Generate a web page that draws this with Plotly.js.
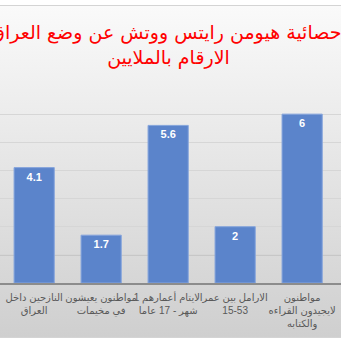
<!DOCTYPE html>
<html>
<head>
<meta charset="utf-8">
<script src="https://cdn.plot.ly/plotly-3.0.1.min.js"></script>
<style>
html,body{margin:0;padding:0;background:#ffffff;}
#chart{width:341px;height:341px;
background:linear-gradient(to bottom,#ffffff 0px,#ffffff 5px,#d4d4d4 5px,#d4d4d4 6px,#fafafa 6px,#cfcfcf 337px,#d4d4d4 337px,#d4d4d4 338px,#ffffff 338px,#ffffff 341px);}
</style>
</head>
<body>
<div id="chart"></div>
<script>
var categories = [
  "النازحين داخل<br>العراق",
  "مواطنون يعيشون<br>في مخيمات",
  "الايتام أعمارهم 1<br>شهر - 17 عاما",
  "الارامل بين عمر<br>15-53",
  "مواطنون<br>لايجيدون القراءه<br>والكتابه"
];
var values = [4.1, 1.7, 5.6, 2, 6];
var titleText = "إحصائية هيومن رايتس ووتش عن وضع العراق<br>الارقام بالملايين";

var trace = {
  type: "bar",
  x: categories,
  y: values,
  text: values.map(String),
  textposition: "inside",
  insidetextanchor: "end",
  textangle: 0,
  constraintext: "none",
  textfont: {family: "Liberation Sans, Arial, sans-serif", size: 11, color: "#ffffff", weight: "bold"},
  marker: {color: "#5b84cb", line: {color: "#86a5dc", width: 1}},
  hoverinfo: "none"
};

var layout = {
  width: 341, height: 341,
  margin: {l: 0, r: 0, t: 86, b: 58, pad: 0},
  paper_bgcolor: "rgba(0,0,0,0)",
  plot_bgcolor: "rgba(0,0,0,0)",
  showlegend: false,
  bargap: 0.4,
  title: {
    text: titleText,
    font: {family: "DejaVu Sans, sans-serif", size: 19, color: "#ff0000"},
    x: 0.494, xanchor: "center",
    y: 0.885, yanchor: "top", yref: "container"
  },
  xaxis: {
    type: "category",
    range: [-0.51, 4.58],
    showline: true, linecolor: "#8c8c8c", linewidth: 1.5,
    ticks: "", showgrid: false, zeroline: false,
    tickangle: 0,
    ticklabelstandoff: 4,
    tickfont: {family: "Liberation Sans, DejaVu Sans, sans-serif", size: 10, color: "#595959"},
    automargin: false
  },
  yaxis: {
    range: [0, 7], dtick: 1,
    showgrid: true, gridcolor: "#d6d6d6", gridwidth: 1,
    showticklabels: false, zeroline: false, showline: false, ticks: "",
    automargin: false
  },
  shapes: [{
    type: "line", xref: "paper", yref: "y", x0: 0, x1: 1, y0: 1, y1: 1,
    line: {color: "#a6a6a6", width: 1}, layer: "below"
  }]
};

Plotly.newPlot("chart", [trace], layout, {displayModeBar: false, staticPlot: true});
</script>
</body>
</html>
